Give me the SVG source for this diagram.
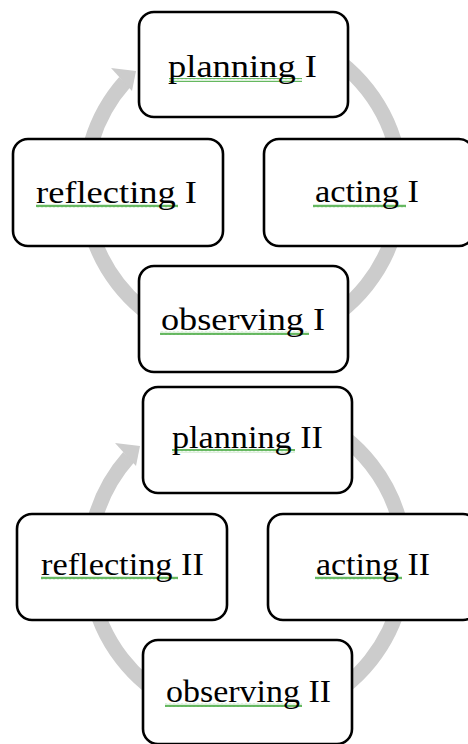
<svg xmlns="http://www.w3.org/2000/svg" width="468" height="744" viewBox="0 0 468 744">
  <style>
    .ring { fill: none; stroke: #cccccc; stroke-width: 15; }
    .head { fill: #cccccc; }
    .box { fill: #ffffff; stroke: #000000; stroke-width: 2.6; }
    .lbl { font-family: "Liberation Serif", "Times New Roman", serif; fill: #000000; text-anchor: middle; }
    .t1 { font-size: 32px; }
    .t2 { font-size: 31px; }
    .sq { fill: url(#squiggle); }
  </style>
  <defs>
    <pattern id="squiggle" width="4" height="4" patternUnits="userSpaceOnUse">
      <path d="M0,3.2 L1,0.8 L2,3.2 L3,0.8 L4,3.2" fill="none" stroke="#46a93f" stroke-width="1"/>
    </pattern>
  </defs>
  <rect width="468" height="744" fill="#ffffff"/>

  <g id="connectors">
    <g id="cycle1-arrow">
      <path class="ring" d="M 243 29 A 158 158 0 1 1 124.8 82.1"/>
      <polygon class="head" points="111,68 136,71 132,91"/>
    </g>
    <g id="cycle2-arrow" transform="translate(4,375)">
      <path class="ring" d="M 243 29 A 158 158 0 1 1 124.8 82.1"/>
      <polygon class="head" points="111,68 136,71 132,91"/>
    </g>
  </g>

  <g id="planning-1">
    <rect class="box" x="139" y="12" width="209" height="105" rx="15"/>
    <rect class="sq" x="169" y="78" width="133" height="4"/>
    <text class="lbl t1" x="242.5" y="77" textLength="149" lengthAdjust="spacingAndGlyphs">planning I</text>
  </g>
  <g id="reflecting-1">
    <rect class="box" x="13" y="139" width="210" height="107" rx="15"/>
    <rect class="sq" x="36" y="204" width="142" height="4"/>
    <text class="lbl t1" x="116.5" y="203" textLength="161" lengthAdjust="spacingAndGlyphs">reflecting I</text>
  </g>
  <g id="acting-1">
    <rect class="box" x="264" y="139" width="210" height="107" rx="15"/>
    <rect class="sq" x="313" y="204" width="93" height="4"/>
    <text class="lbl t1" x="367" y="202" textLength="104" lengthAdjust="spacingAndGlyphs">acting I</text>
  </g>
  <g id="observing-1">
    <rect class="box" x="139" y="266" width="209" height="106" rx="15"/>
    <rect class="sq" x="160" y="331" width="149" height="4"/>
    <text class="lbl t1" x="243" y="330" textLength="164" lengthAdjust="spacingAndGlyphs">observing I</text>
  </g>

  <g id="planning-2">
    <rect class="box" x="143" y="387" width="209" height="106" rx="15"/>
    <rect class="sq" x="172" y="449" width="123" height="4"/>
    <text class="lbl t2" x="247.5" y="448" textLength="151" lengthAdjust="spacingAndGlyphs">planning II</text>
  </g>
  <g id="reflecting-2">
    <rect class="box" x="17" y="514" width="210" height="106" rx="15"/>
    <rect class="sq" x="41" y="576" width="137" height="4"/>
    <text class="lbl t2" x="122.5" y="575" textLength="163" lengthAdjust="spacingAndGlyphs">reflecting II</text>
  </g>
  <g id="acting-2">
    <rect class="box" x="268" y="514" width="210" height="106" rx="15"/>
    <rect class="sq" x="315" y="576" width="87" height="4"/>
    <text class="lbl t2" x="373" y="575" textLength="114" lengthAdjust="spacingAndGlyphs">acting II</text>
  </g>
  <g id="observing-2">
    <rect class="box" x="143" y="640" width="209" height="104" rx="15"/>
    <rect class="sq" x="165" y="703" width="137" height="4"/>
    <text class="lbl t2" x="248.5" y="702" textLength="165" lengthAdjust="spacingAndGlyphs">observing II</text>
  </g>
</svg>
